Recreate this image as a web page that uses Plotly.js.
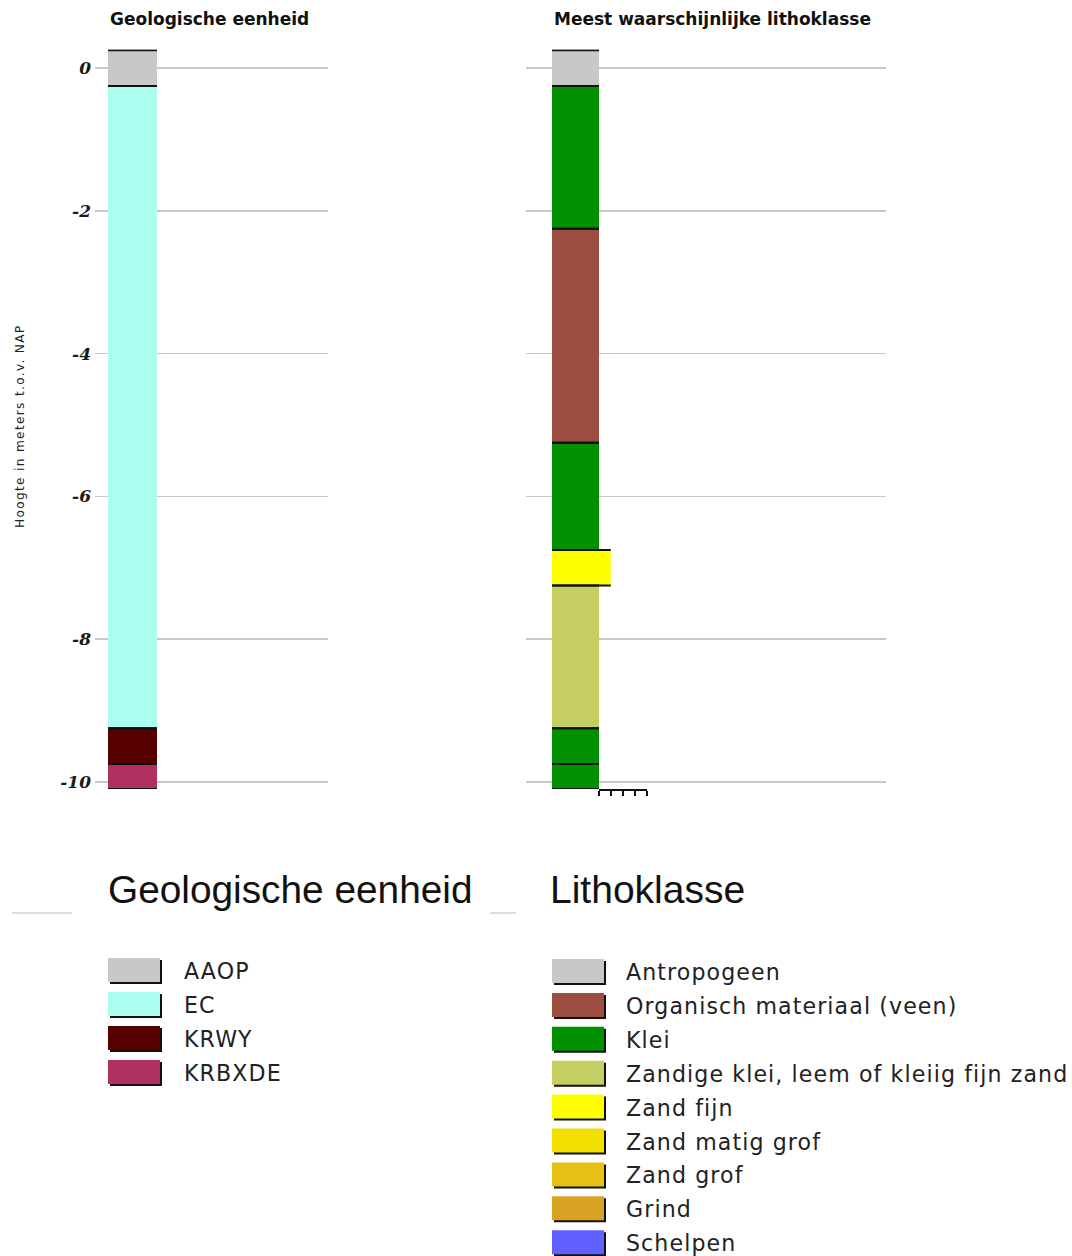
<!DOCTYPE html>
<html>
<head>
<meta charset="utf-8">
<script src="https://cdn.plot.ly/plotly-3.0.1.min.js"></script>
<style>
html,body{margin:0;padding:0;background:#fff;}
#chart{width:1072px;height:1256px;}
/* letter spacing for legend entries and y title (matched by their unique font sizes,
   so Plotly's own text measurement sees the same spacing) */
text[style*="22.1px"]{letter-spacing:1.1px;}
text[style*="12.2px"]{letter-spacing:1.3px;}
</style>
</head>
<body>
<div id="chart"></div>
<script>
// ---------- DATA ----------
// Geologische eenheid column (top / bottom in m t.o.v. NAP)
const geoUnits   = ["AAOP", "EC", "KRWY", "KRBXDE"];
const geoTop     = [0.25, -0.25, -9.25, -9.75];
const geoBottom  = [-0.25, -9.25, -9.75, -10.1];

// Meest waarschijnlijke lithoklasse column
const lithoLayer  = ["Antropogeen", "Klei", "Organisch materiaal (veen)", "Klei", "Zand fijn", "Zandige klei, leem of kleiig fijn zand", "Klei", "Klei"];
const lithoTop    = [0.25, -0.25, -2.25, -5.25, -6.75, -7.25, -9.25, -9.75];
const lithoBottom = [-0.25, -2.25, -5.25, -6.75, -7.25, -9.25, -9.75, -10.1];
const lithoGrain  = [1, 1, 1, 1, 1.25, 1, 1, 1];   // relative grain-size class (bar width)
const grainTicks  = [1, 1.25, 1.5, 1.75, 2];

// Legends
const geoLegendNames   = ["AAOP", "EC", "KRWY", "KRBXDE"];
const geoLegendColors  = ["#c8c8c8", "#aafff0", "#560000", "#b0305f"];
const lithoLegendNames = ["Antropogeen", "Organisch materiaal (veen)", "Klei", "Zandige klei, leem of kleiig fijn zand", "Zand fijn", "Zand matig grof", "Zand grof", "Grind", "Schelpen"];
const lithoLegendColors= ["#c8c8c8", "#9b4e3f", "#009000", "#c5ce60", "#ffff00", "#f2de00", "#e6c214", "#d8a222", "#6060ff"];

const yTickVals = [0, -2, -4, -6, -8, -10];

// ---------- HELPERS ----------
const W = 1072, H = 1256;
const px = x => x / W;
const py = y => 1 - y / H;
const colorOf = (names, colors) => n => colors[names.indexOf(n)];
const geoColor = colorOf(geoLegendNames, geoLegendColors);
const lithoColor = colorOf(lithoLegendNames, lithoLegendColors);

function boundaryLines(tops, bottoms, widths) {
  const xs = [], ys = [];
  tops.forEach((t, i) => {
    const w = widths[i];
    xs.push(0, w, null, 0, w, null);
    ys.push(t, t, null, bottoms[i], bottoms[i], null);
  });
  return {x: xs, y: ys};
}

const geoWidths = geoUnits.map(() => 1);
const geoB = boundaryLines(geoTop, geoBottom, geoWidths);
const lithoB = boundaryLines(lithoTop, lithoBottom, lithoGrain);

const traces = [
  {
    type: "bar", xaxis: "x", yaxis: "y",
    x: geoUnits.map(() => 0),
    y: geoTop.map((t, i) => geoBottom[i] - t),
    base: geoTop,
    width: geoWidths, offset: 0,
    marker: {color: geoUnits.map(geoColor), line: {width: 0}},
    text: geoUnits, hoverinfo: "text", textposition: "none",
    showlegend: false
  },
  {
    type: "scatter", mode: "lines", xaxis: "x", yaxis: "y",
    x: geoB.x, y: geoB.y, line: {color: "#111", width: 2},
    hoverinfo: "skip", showlegend: false, cliponaxis: false
  },
  {
    type: "bar", xaxis: "x2", yaxis: "y2",
    x: lithoLayer.map(() => 0),
    y: lithoTop.map((t, i) => lithoBottom[i] - t),
    base: lithoTop,
    width: lithoGrain, offset: 0,
    marker: {color: lithoLayer.map(lithoColor), line: {width: 0}},
    text: lithoLayer, hoverinfo: "text", textposition: "none",
    showlegend: false
  },
  {
    type: "scatter", mode: "lines", xaxis: "x2", yaxis: "y2",
    x: lithoB.x, y: lithoB.y, line: {color: "#111", width: 2},
    hoverinfo: "skip", showlegend: false, cliponaxis: false
  },
  {
    type: "scatter", mode: "markers", xaxis: "x3", yaxis: "y2",
    x: [], y: [], hoverinfo: "skip", showlegend: false
  }
];

const yDomain = [py(789), py(49.5)];
const yRange = [-10.1, 0.26];

const layout = {
  width: W, height: H,
  margin: {l: 0, r: 0, t: 0, b: 0, pad: 0},
  paper_bgcolor: "#fff", plot_bgcolor: "rgba(0,0,0,0)",
  barmode: "overlay",
  showlegend: false,
  xaxis: {domain: [px(95), px(328)], range: [-13/49, 220/49], showgrid: false, zeroline: false, showticklabels: false, ticks: "", fixedrange: true},
  xaxis2: {domain: [px(526), px(886)], range: [-26/47, 334/47], showgrid: false, zeroline: false, showticklabels: false, ticks: "", fixedrange: true},
  xaxis3: {domain: [px(599), px(647)], range: [1, 2], anchor: "y2", tickvals: grainTicks, ticks: "outside", ticklen: 5, tickwidth: 2, tickcolor: "#111",
           showline: true, linecolor: "#111", linewidth: 2, showticklabels: false, showgrid: false, zeroline: false, fixedrange: true},
  yaxis: {domain: yDomain, range: yRange, tickvals: yTickVals, ticktext: yTickVals.map(String),
          showgrid: true, gridcolor: "#c8c8c8", gridwidth: 1.5, zeroline: false, ticks: "", ticklabelstandoff: 3,
          tickfont: {family: "DejaVu Serif", size: 17, color: "#1a1a1a", weight: "bold", style: "italic"}, fixedrange: true},
  yaxis2: {domain: yDomain, range: yRange, anchor: "x2", tickvals: yTickVals, showticklabels: false,
           showgrid: true, gridcolor: "#c8c8c8", gridwidth: 1.5, zeroline: false, ticks: "", fixedrange: true},
  shapes: [],
  annotations: []
};

// Panel titles and y title
layout.annotations.push(
  {xref: "x", yref: "paper", x: 0, y: py(19), xanchor: "left", yanchor: "middle", showarrow: false,
   text: "Geologische eenheid", font: {family: "DejaVu Sans", size: 17, color: "#111", weight: "bold"}},
  {xref: "x2", yref: "paper", x: 0, y: py(19), xanchor: "left", yanchor: "middle", showarrow: false,
   text: "Meest waarschijnlijke lithoklasse", font: {family: "DejaVu Sans", size: 17, color: "#111", weight: "bold"}},
  {xref: "paper", yref: "paper", x: px(20), y: py(426), xanchor: "center", yanchor: "middle", showarrow: false, textangle: -90,
   text: "Hoogte in meters t.o.v. NAP", font: {family: "DejaVu Sans", size: 12.2, color: "#222"}}
);

// Legend section titles and separators
layout.annotations.push(
  {xref: "paper", yref: "paper", x: px(106), y: py(889), xanchor: "left", yanchor: "middle", showarrow: false,
   text: "Geologische eenheid", font: {family: "Liberation Sans", size: 38.8, color: "#111"}},
  {xref: "paper", yref: "paper", x: px(548), y: py(889), xanchor: "left", yanchor: "middle", showarrow: false,
   text: "Lithoklasse", font: {family: "Liberation Sans", size: 39, color: "#111"}}
);
[[12, 72], [490, 516]].forEach(([a, b]) => layout.shapes.push(
  {type: "line", xref: "paper", yref: "paper", x0: px(a), x1: px(b), y0: py(913), y1: py(913), line: {color: "#d0d0d0", width: 1.5}}
));

function addLegend(names, colors, sx, tx, y0, step) {
  names.forEach((n, i) => {
    const c = y0 + step * i;
    layout.shapes.push(
      {type: "rect", xref: "paper", yref: "paper", x0: px(sx + 2), x1: px(sx + 54), y0: py(c - 11), y1: py(c + 13), line: {width: 0}, fillcolor: "#111"},
      {type: "rect", xref: "paper", yref: "paper", x0: px(sx), x1: px(sx + 52), y0: py(c - 13), y1: py(c + 11), line: {width: 0}, fillcolor: colors[i]}
    );
    layout.annotations.push({xref: "paper", yref: "paper", x: px(tx), y: py(c), xanchor: "left", yanchor: "middle", showarrow: false,
      text: n, font: {family: "DejaVu Sans", size: 22.1, color: "#222"}});
  });
}
addLegend(geoLegendNames, geoLegendColors, 108, 182, 971, 34);
addLegend(lithoLegendNames, lithoLegendColors, 552, 624, 972, 33.9);

Plotly.newPlot("chart", traces, layout, {displayModeBar: false, staticPlot: true});
</script>
</body>
</html>
